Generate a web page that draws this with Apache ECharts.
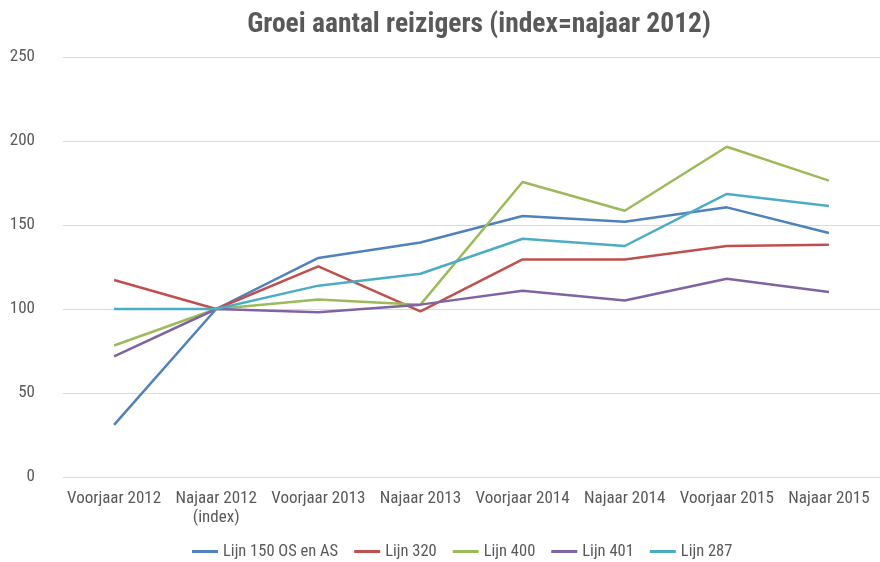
<!DOCTYPE html>
<html><head><meta charset="utf-8">
<script src="https://cdn.jsdelivr.net/npm/echarts@6/dist/echarts.min.js"></script>
<style>html,body{margin:0;padding:0;background:#fff}#c{width:880px;height:562px}</style>
</head><body><div id="c"></div>
<script>
const categories = ['Voorjaar 2012','Najaar 2012\n(index)','Voorjaar 2013','Najaar 2013','Voorjaar 2014','Najaar 2014','Voorjaar 2015','Najaar 2015'];
const lijn150 = [31, 100, 130.4, 139.6, 155.4, 152, 160.5, 145.2];
const lijn320 = [117.3, 100, 125.4, 98.6, 129.5, 129.5, 137.5, 138.3];
const lijn400 = [78.3, 100, 105.7, 102.6, 175.6, 158.5, 196.6, 176.4];
const lijn401 = [71.8, 100, 98, 102.6, 110.9, 105.1, 118, 110.1];
const lijn287 = [100, 100, 113.9, 121, 141.8, 137.5, 168.5, 161.3];
const seriesNames = ['Lijn 150 OS en AS','Lijn 320','Lijn 400','Lijn 401','Lijn 287'];
const colors = ['#4F81BD','#C0504D','#9BBB59','#8064A2','#4BACC6'];
const font = '"Liberation Sans Narrow", "Roboto Condensed", "Arial Narrow", "Liberation Sans", sans-serif';
const chart = echarts.init(document.getElementById('c'));
const data = [lijn150, lijn320, lijn400, lijn401, lijn287];
chart.setOption({
  animation: false,
  color: colors,
  title: {
    text: 'Groei aantal reizigers (index=najaar 2012)',
    left: 474, top: 6, textAlign: 'center',
    textStyle: {fontFamily: font, fontSize: 27.5, fontWeight: 'bold', color: '#595959'}
  },
  grid: {left: 63, right: 0, top: 57, bottom: 85, containLabel: false},
  legend: {
    top: 538, left: 187, itemWidth: 26, itemHeight: 3, itemGap: 16,
    icon: 'rect',
    textStyle: {fontFamily: font, fontSize: 16.5, color: '#595959'},
    data: seriesNames
  },
  xAxis: {
    type: 'category', data: categories, boundaryGap: true,
    axisLine: {show: false}, axisTick: {show: false},
    axisLabel: {fontFamily: font, fontSize: 17, color: '#595959', margin: 12, interval: 0, lineHeight: 19}
  },
  yAxis: {
    type: 'value', min: 0, max: 250, interval: 50,
    axisLine: {show: false}, axisTick: {show: false},
    axisLabel: {fontFamily: font, fontSize: 17, color: '#595959', margin: 28},
    splitLine: {lineStyle: {color: '#D9D9D9', width: 1}}
  },
  series: data.map((d, i) => ({
    name: seriesNames[i], type: 'line', data: d, symbol: 'none',
    lineStyle: {width: 2.5, color: colors[i]}
  }))
});
</script></body></html>
